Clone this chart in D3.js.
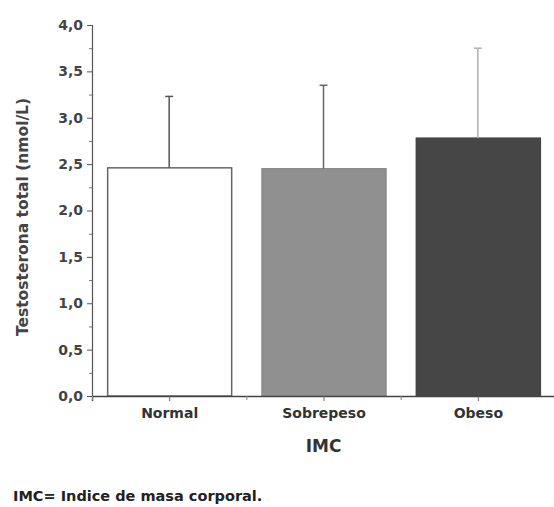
<!DOCTYPE html>
<html>
<head>
<meta charset="utf-8">
<script src="https://cdn.jsdelivr.net/npm/d3@7"></script>
<style>
  body { margin: 0; background: #fff; }
  svg { display: block; font-family: "DejaVu Sans", sans-serif; font-weight: bold; }
</style>
</head>
<body>
<div id="chart"></div>
<script>
// Testosterona total por IMC
const categories = ["Normal", "Sobrepeso", "Obeso"];
const means = [2.46, 2.45, 2.78];
const upperErr = [3.23, 3.35, 3.75];
const yTicks = [0, 0.5, 1, 1.5, 2, 2.5, 3, 3.5, 4];
const barFills = ["#ffffff", "#909090", "#464646"];
const barStrokes = ["#666666", "#8a8a8a", "#444444"];
const errColors = ["#555555", "#666666", "#b0b0b0"];

function main() {
  const width = 554, height = 507;
  const font = "DejaVu Sans, sans-serif";
  const svg = d3.select("#chart").append("svg")
    .attr("width", width).attr("height", height);

  // échelles
  const x = d3.scaleLinear().domain([0.5, 3.5]).range([92, 555]);
  const y = d3.scaleLinear().domain([0, 4]).range([396, 25]);
  const barW = 124;

  // barres
  categories.forEach((c, i) => {
    const cx = x(i + 1);
    svg.append("rect")
      .attr("x", cx - barW / 2 + 0.5)
      .attr("y", y(means[i]))
      .attr("width", barW)
      .attr("height", y(0) - y(means[i]))
      .attr("fill", barFills[i])
      .attr("stroke", barStrokes[i])
      .attr("stroke-width", 1.5);
    // barre d'erreur
    svg.append("line")
      .attr("x1", cx).attr("x2", cx)
      .attr("y1", y(means[i])).attr("y2", y(upperErr[i]))
      .attr("stroke", errColors[i]).attr("stroke-width", 1.5);
    svg.append("line")
      .attr("x1", cx - 4).attr("x2", cx + 4)
      .attr("y1", y(upperErr[i])).attr("y2", y(upperErr[i]))
      .attr("stroke", errColors[i]).attr("stroke-width", 1.5);
  });

  // axe Y
  const yAxis = d3.axisLeft(y).tickValues(yTicks).tickSize(5).tickPadding(4)
    .tickFormat(d => d3.format(".1f")(d).replace(".", ","));
  const gy = svg.append("g").attr("transform", "translate(92,0)").call(yAxis);
  gy.select(".domain").attr("stroke", "#555").attr("stroke-width", 1.2);
  gy.selectAll(".tick line").attr("stroke", "#555");
  gy.selectAll(".tick text").attr("font-size", 14).attr("fill", "#444")
    .attr("font-family", font).attr("font-weight", "bold");
  const minorY = d3.axisLeft(y).tickValues(d3.range(0.25, 4, 0.5)).tickSize(3).tickFormat("");
  const gym = svg.append("g").attr("transform", "translate(92,0)").call(minorY);
  gym.select(".domain").remove();
  gym.selectAll(".tick line").attr("stroke", "#777");

  // axe X
  const xAxis = d3.axisBottom(x).tickValues([1, 2, 3]).tickSize(5).tickPadding(7)
    .tickFormat((d, i) => categories[i]);
  const gx = svg.append("g").attr("transform", "translate(0,396)").call(xAxis);
  gx.select(".domain").attr("stroke", "#444").attr("stroke-width", 1.5);
  gx.selectAll(".tick line").attr("stroke", "#666");
  gx.selectAll(".tick text").attr("font-size", 14).attr("fill", "#333")
    .attr("font-family", font).attr("font-weight", "bold");
  const minorX = d3.axisBottom(x).tickValues([0.5, 1.5, 2.5]).tickSize(4).tickFormat("");
  const gxm = svg.append("g").attr("transform", "translate(0,396)").call(minorX);
  gxm.select(".domain").remove();
  gxm.selectAll(".tick line").attr("stroke", "#888");

  // titres
  svg.append("text")
    .attr("transform", "translate(28,217) rotate(-90)")
    .attr("text-anchor", "middle").attr("font-size", 15.5).attr("fill", "#444")
    .text("Testosterona total (nmol/L)");
  svg.append("text")
    .attr("x", x(2)).attr("y", 452)
    .attr("text-anchor", "middle").attr("font-size", 17).attr("fill", "#333")
    .text("IMC");
  svg.append("text")
    .attr("x", 13).attr("y", 501)
    .attr("font-size", 14.5).attr("fill", "#222")
    .text("IMC= Indice de masa corporal.");
}

main();
</script>
</body>
</html>
